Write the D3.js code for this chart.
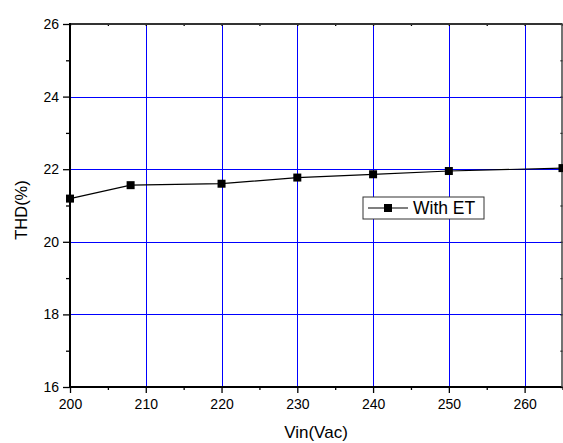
<!DOCTYPE html>
<html>
<head>
<meta charset="utf-8">
<script src="https://cdn.jsdelivr.net/npm/d3@7"></script>
<style>
  html, body { margin: 0; padding: 0; background: #fff; }
  svg { display: block; font-family: Arial, "Liberation Sans", sans-serif; }
</style>
</head>
<body>
<svg id="chart" width="563" height="443"></svg>
<script>
// Input voltage (Vac) and measured THD (%)
const vin = [200, 208, 220, 230, 240, 250, 265];
const thd = [21.19, 21.56, 21.6, 21.77, 21.86, 21.95, 22.03];
const seriesName = "With ET";

const xTicks = [200, 210, 220, 230, 240, 250, 260];
const xMinor = [205, 215, 225, 235, 245, 255, 265];
const yTicks = [16, 18, 20, 22, 24, 26];
const yMinor = [17, 19, 21, 23, 25];
const xGrid = [210, 220, 230, 240, 250, 260];
const yGrid = [18, 20, 22, 24];

const svg = d3.select("#chart");
const plotL = 70, plotR = 562.5, plotT = 24, plotB = 387;

const x = d3.scaleLinear().domain([200, 265]).range([plotL, plotR]);
const y = d3.scaleLinear().domain([16, 26]).range([plotB, plotT]);

// Blue grid
const grid = svg.append("g");
grid.selectAll(".gx").data(xGrid).join("line")
  .attr("x1", d => Math.round(x(d)) + 0.5).attr("x2", d => Math.round(x(d)) + 0.5)
  .attr("y1", plotT).attr("y2", plotB)
  .attr("stroke", "#0000ff").attr("stroke-width", 1);
grid.selectAll(".gy").data(yGrid).join("line")
  .attr("y1", d => Math.round(y(d)) + 0.5).attr("y2", d => Math.round(y(d)) + 0.5)
  .attr("x1", plotL).attr("x2", plotR)
  .attr("stroke", "#0000ff").attr("stroke-width", 1);

// Bottom axis: major and minor ticks outward
svg.append("g").attr("transform", `translate(0,${plotB})`)
  .call(d3.axisBottom(x).tickValues(xTicks).tickSize(6).tickPadding(6).tickFormat(d3.format("d")));
svg.append("g").attr("transform", `translate(0,${plotB})`)
  .call(d3.axisBottom(x).tickValues(xMinor).tickSize(3).tickFormat(""));

// Left axis
svg.append("g").attr("transform", `translate(${plotL},0)`)
  .call(d3.axisLeft(y).tickValues(yTicks).tickSize(7).tickPadding(4).tickFormat(d3.format("d")));
svg.append("g").attr("transform", `translate(${plotL},0)`)
  .call(d3.axisLeft(y).tickValues(yMinor).tickSize(4).tickFormat(""));

// Top and right axes with small inward ticks
svg.append("g").attr("transform", `translate(0,${plotT})`)
  .call(d3.axisBottom(x).tickValues(xTicks.concat(xMinor)).tickSize(2).tickFormat(""));
svg.append("g").attr("transform", `translate(${plotR},0)`)
  .call(d3.axisRight(y).tickValues(yTicks.concat(yMinor)).tickSize(-2).tickFormat(""));

svg.selectAll(".domain").remove();
svg.selectAll(".tick line").attr("stroke", "#000").attr("stroke-width", 1.3);
svg.selectAll(".tick text").attr("font-size", "14px").attr("fill", "#000")
  .attr("font-family", "Arial, 'Liberation Sans', sans-serif");

// Frame
svg.append("line").attr("x1", plotL - 1).attr("x2", plotR).attr("y1", plotT).attr("y2", plotT)
  .attr("stroke", "#333").attr("stroke-width", 2.2);
svg.append("line").attr("x1", plotL - 1).attr("x2", plotR).attr("y1", plotB).attr("y2", plotB)
  .attr("stroke", "#000").attr("stroke-width", 2);
svg.append("line").attr("x1", plotL).attr("x2", plotL).attr("y1", plotT - 1).attr("y2", plotB + 1)
  .attr("stroke", "#000").attr("stroke-width", 2);
svg.append("line").attr("x1", plotR - 0.5).attr("x2", plotR - 0.5).attr("y1", plotT).attr("y2", plotB)
  .attr("stroke", "#444").attr("stroke-width", 1.5);

// Data line and square markers
const pts = vin.map((v, i) => [v, thd[i]]);
svg.append("path").datum(pts)
  .attr("d", d3.line().x(d => x(d[0])).y(d => y(d[1])))
  .attr("fill", "none").attr("stroke", "#000").attr("stroke-width", 1.2);
svg.selectAll(".pt").data(pts).join("rect")
  .attr("x", d => x(d[0]) - 4).attr("y", d => y(d[1]) - 4)
  .attr("width", 8).attr("height", 8).attr("fill", "#000");

// Legend
const lg = svg.append("g");
lg.append("rect").attr("x", 363).attr("y", 197).attr("width", 121).attr("height", 22)
  .attr("fill", "#fff").attr("stroke", "#333").attr("stroke-width", 1);
lg.append("line").attr("x1", 368).attr("x2", 408).attr("y1", 208).attr("y2", 208)
  .attr("stroke", "#000").attr("stroke-width", 1.2);
lg.append("rect").attr("x", 384).attr("y", 204).attr("width", 8).attr("height", 8).attr("fill", "#000");
lg.append("text").attr("x", 413).attr("y", 214).attr("font-size", "17.5px").attr("fill", "#000")
  .text(seriesName);

// Axis titles
svg.append("text").attr("x", 316).attr("y", 438).attr("text-anchor", "middle")
  .attr("font-size", "17px").attr("fill", "#000").text("Vin(Vac)");
svg.append("text").attr("transform", "translate(27,210) rotate(-90)").attr("text-anchor", "middle")
  .attr("font-size", "16.5px").attr("fill", "#000").text("THD(%)");
</script>
</body>
</html>
